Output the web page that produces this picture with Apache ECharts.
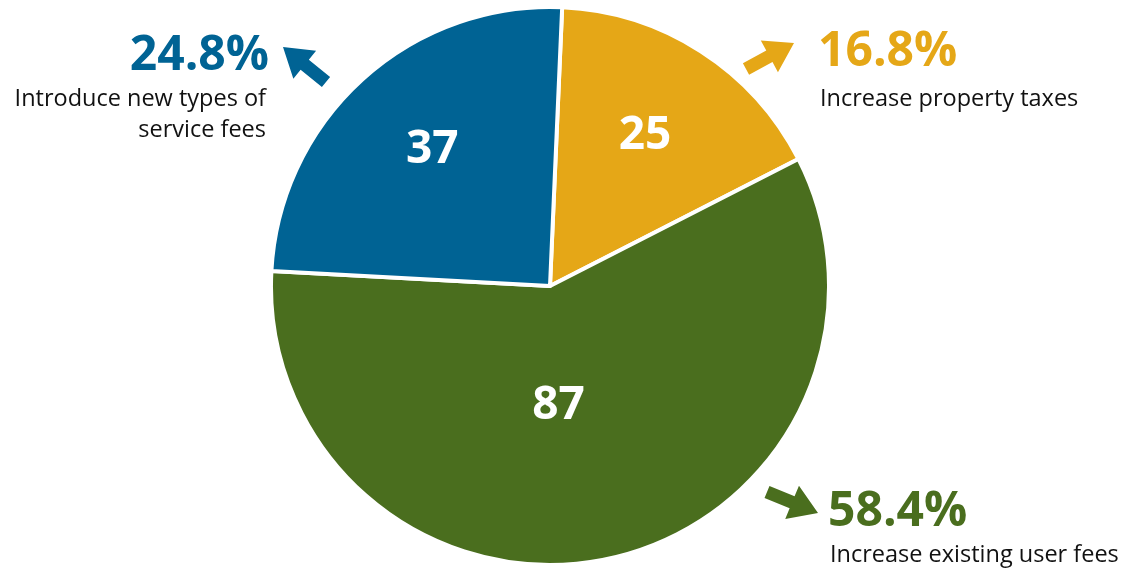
<!DOCTYPE html>
<html><head><meta charset="utf-8">
<script src="https://cdn.jsdelivr.net/npm/echarts@6/dist/echarts.min.js"></script>
<style>html,body{margin:0;padding:0;background:#fff}#c{width:1125px;height:568px}</style>
</head><body><div id="c"></div>
<script>
const categories = ['Increase property taxes', 'Increase existing user fees', 'Introduce new types of\nservice fees'];
const counts = [25, 87, 37];
const percents = ['16.8%', '58.4%', '24.8%'];
const colors = ['#E5A717', '#4A6E1E', '#006394'];

const chart = echarts.init(document.getElementById('c'));
const F = '"Open Sans", "Noto Sans", sans-serif';

function arrow(x0, y0, x1, y1, color) {
  const dx = x1 - x0, dy = y1 - y0, L = Math.hypot(dx, dy);
  const ux = dx / L, uy = dy / L, px = -uy, py = ux;
  const sw = 6.5, hw = 18, hl = 28;
  const bx = x1 - ux * hl, by = y1 - uy * hl;
  return {
    type: 'polygon', silent: true,
    shape: { points: [
      [x0 + px * sw, y0 + py * sw], [bx + px * sw, by + py * sw], [bx + px * hw, by + py * hw],
      [x1, y1], [bx - px * hw, by - py * hw], [bx - px * sw, by - py * sw], [x0 - px * sw, y0 - py * sw]
    ] },
    style: { fill: color }
  };
}
function pct(x, y, text, color, align) {
  return { type: 'text', x: x, y: y, silent: true,
    style: { text: text, font: 'bold 48px ' + F, fill: color, align: align, verticalAlign: 'middle' } };
}
function desc(x, y, text, align) {
  return { type: 'text', x: x, y: y, silent: true,
    style: { text: text, font: 'normal 23.5px ' + F, fill: '#111', align: align, verticalAlign: 'top', lineHeight: 31 } };
}

const offsets = [[18, -30], [-21, -19], [-22, -31]];

chart.setOption({
  animation: false,
  series: [{
    type: 'pie',
    center: [550, 286],
    radius: 279,
    startAngle: 87.5,
    clockwise: true,
    itemStyle: { borderColor: '#fff', borderWidth: 4 },
    label: { show: true, position: 'inside', color: '#fff', fontFamily: F, fontWeight: 'bold', fontSize: 46, formatter: '{c}' },
    labelLine: { show: false },
    emphasis: { disabled: true },
    data: categories.map((n, i) => ({ name: n, value: counts[i], itemStyle: { color: colors[i] }, label: { offset: offsets[i] } }))
  }],
  graphic: [
    arrow(326, 82, 283, 47, colors[2]),
    arrow(746, 69, 794, 43, colors[0]),
    arrow(767, 492, 818, 513, colors[1]),
    pct(269, 56, percents[2], colors[2], 'right'),
    desc(266, 84, categories[2], 'right'),
    pct(818, 52, percents[0], colors[0], 'left'),
    desc(820, 84, categories[0], 'left'),
    pct(828, 512, percents[1], colors[1], 'left'),
    desc(830, 540, categories[1], 'left')
  ]
});
</script></body></html>
